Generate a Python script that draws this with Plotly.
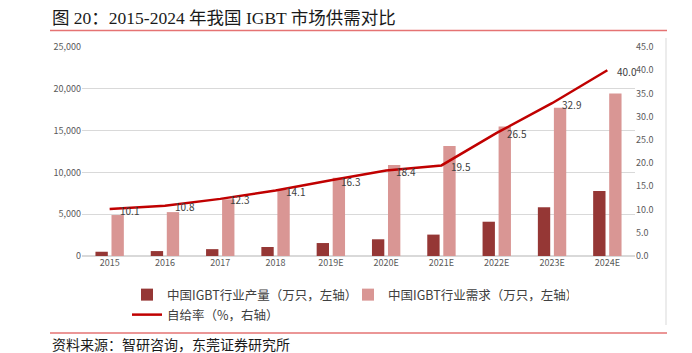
import plotly.graph_objects as go

categories = ["2015", "2016", "2017", "2018", "2019E", "2020E", "2021E", "2022E", "2023E", "2024E"]
production = [510, 590, 820, 1080, 1550, 2000, 2560, 4100, 5830, 7780]
demand = [4900, 5250, 6780, 7900, 9350, 10900, 13150, 15480, 17730, 19450]
self_rate = [10.1, 10.8, 12.3, 14.1, 16.3, 18.4, 19.5, 26.5, 32.9, 40.0]
rate_labels = ["10.1", "10.8", "12.3", "14.1", "16.3", "18.4", "19.5", "26.5", "32.9", "40.0"]

L, R, T, B = 82, 635, 47, 256
W, H = 692, 353
PW, PH = R - L, B - T

def px(x):
    return (x - L) / PW

def py(y):
    return (B - y) / PH

CJK = "Noto Sans CJK SC"
fig = go.Figure()
fig.add_trace(go.Bar(
    x=categories, y=production, name="中国IGBT行业产量（万只，左轴）",
    marker=dict(color="#953735", line=dict(width=0)), legend="legend",
))
fig.add_trace(go.Bar(
    x=categories, y=demand, name="中国IGBT行业需求（万只，左轴）",
    marker=dict(color="#D99694", line=dict(width=0)), legend="legend",
))
fig.add_trace(go.Scatter(
    x=categories, y=self_rate, name="自给率（%，右轴）", yaxis="y2",
    mode="lines", line=dict(color="#C00000", width=2.5), legend="legend2",
))

for i, (v, t) in enumerate(zip(self_rate, rate_labels)):
    fig.add_annotation(x=i, y=v, xref="x", yref="y2", text=t, showarrow=False,
                       xanchor="left", yanchor="middle", xshift=8, yshift=-1,
                       font=dict(size=10, color="#404040", family=CJK))

fig.update_layout(
    width=W, height=H,
    margin=dict(l=L, r=W - R, t=T, b=H - B, pad=0),
    paper_bgcolor="white", plot_bgcolor="white",
    barmode="group", bargap=0.42, bargroupgap=0.23,
    font=dict(family=CJK, size=9, color="#595959"),
    xaxis=dict(type="category", categoryarray=categories, range=[-0.5, len(categories) - 0.5],
               showgrid=False, showline=False, ticks="",
               tickfont=dict(size=9, color="#595959")),
    yaxis=dict(range=[0, 25000], dtick=5000, tickformat=",", showgrid=True,
               gridcolor="#D9D9D9", gridwidth=1, zeroline=True, zerolinecolor="#D9D9D9",
               ticks="", tickfont=dict(size=9, color="#595959")),
    yaxis2=dict(range=[0, 45], dtick=5, tickformat=".1f", overlaying="y", side="right",
                showgrid=False, zeroline=False, ticks="",
                tickfont=dict(size=9, color="#595959")),
    legend=dict(orientation="h", x=px(127), y=py(295), xanchor="left", yanchor="middle",
                font=dict(size=12.5, color="#404040", family=CJK),
                entrywidth=176, itemwidth=30, bgcolor="rgba(0,0,0,0)", tracegroupgap=0),
    legend2=dict(orientation="h", x=px(127), y=py(315), xanchor="left", yanchor="middle",
                 font=dict(size=12.5, color="#404040", family=CJK),
                 itemwidth=30, bgcolor="rgba(0,0,0,0)"),
    showlegend=True,
)

fig.add_annotation(
    text="图 20：2015-2024 年我国 IGBT 市场供需对比", xref="paper", yref="paper",
    x=px(50), y=py(18), xanchor="left", yanchor="middle", showarrow=False,
    font=dict(size=17.5, color="#1a1a1a", family="Liberation Serif, " + CJK),
)
fig.add_annotation(
    text="资料来源：智研咨询，东莞证券研究所", xref="paper", yref="paper",
    x=px(50), y=py(344), xanchor="left", yanchor="middle", showarrow=False,
    font=dict(size=14, color="#1a1a1a", family=CJK),
)
fig.add_shape(type="line", xref="paper", yref="paper", x0=px(50), x1=px(667),
              y0=py(30.5), y1=py(30.5), line=dict(color="#E57373", width=1.5))
fig.add_shape(type="line", xref="paper", yref="paper", x0=px(50), x1=px(667),
              y0=py(333), y1=py(333), line=dict(color="#E57373", width=1.5))
fig.add_shape(type="line", xref="paper", yref="paper", x0=px(666), x1=px(666),
              y0=py(38), y1=py(325), line=dict(color="#D9D9D9", width=1))

fig.write_html("out.html")
